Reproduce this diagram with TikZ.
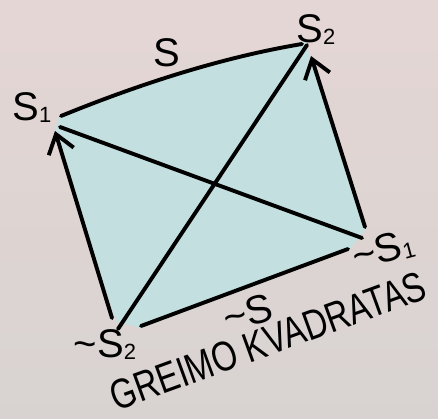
\documentclass[tikz,border=0pt]{standalone}
\usepackage{fontspec}
\setmainfont{Liberation Sans}
\usetikzlibrary{arrows.meta}
\definecolor{bgtop}{HTML}{E4D6D4}
\definecolor{bgbot}{HTML}{D8D3D1}
\definecolor{sqfill}{HTML}{C3DFDF}
\newcommand{\hwsub}[1]{{\fontsize{22}{22}\selectfont\raisebox{-2pt}{#1}}}
\begin{document}
\begin{tikzpicture}[x=1pt,y=-1pt,line cap=round,line join=round,
  edge/.style={line width=3.9pt,black},
  arr/.style={edge,-{Straight Barb[length=18pt,width=26pt]}},
  lbl/.style={inner sep=0pt,font=\fontsize{40}{40}\selectfont},
  title/.style={inner sep=0pt,font=\fontsize{42}{42}\selectfont}]
\shade[top color=bgtop,bottom color=bgbot] (0,0) rectangle (438,419);
\useasboundingbox (0,0) rectangle (438,419);
% corner coordinates
\coordinate (A) at (61,116);
\coordinate (B) at (302,44);
\coordinate (At) at (55,131);
\coordinate (Bt) at (311,56);
\coordinate (Ds) at (112,318);
\coordinate (Cs) at (365,227);
\coordinate (Db) at (141,326);
\coordinate (Cb) at (348,249);
\coordinate (A2) at (60,127);
\coordinate (C2) at (362,238);
\coordinate (D2) at (118,329);
\coordinate (B2) at (307,45);
% fill
\fill[sqfill] (59,117) .. controls (142,83) and (224,57) .. (305,41)
  -- (366,229) -- (350,249) -- (140,328) -- (116,321) -- (55,130) -- cycle;
% edges
\draw[edge] (A) .. controls (142,83) and (224,57) .. (B);
\draw[arr] (Ds) -- (At);
\draw[arr] (Cs) -- (Bt);
\draw[edge] (Db) -- (Cb);
\draw[edge] (A2) -- (C2);
\draw[edge] (D2) -- (B2);
% labels
\node[lbl] (s) at (167,53) {S};
\node[lbl] (s1) at (32,108) {S\hwsub{1}};
\node[lbl] (s2) at (316,30) {S\hwsub{2}};
\node[lbl,rotate=15] (ns1) at (383,250) {\textasciitilde S\hwsub{1}};
\node[lbl] (ns2) at (105,345) {\textasciitilde S\hwsub{2}};
\node[lbl,rotate=15] (ns) at (248,313) {\textasciitilde S};
\node[title,rotate=20] (t) at (268,341) {\scalebox{0.78}[1]{GREIMO KVADRATAS}};
\end{tikzpicture}
\end{document}
